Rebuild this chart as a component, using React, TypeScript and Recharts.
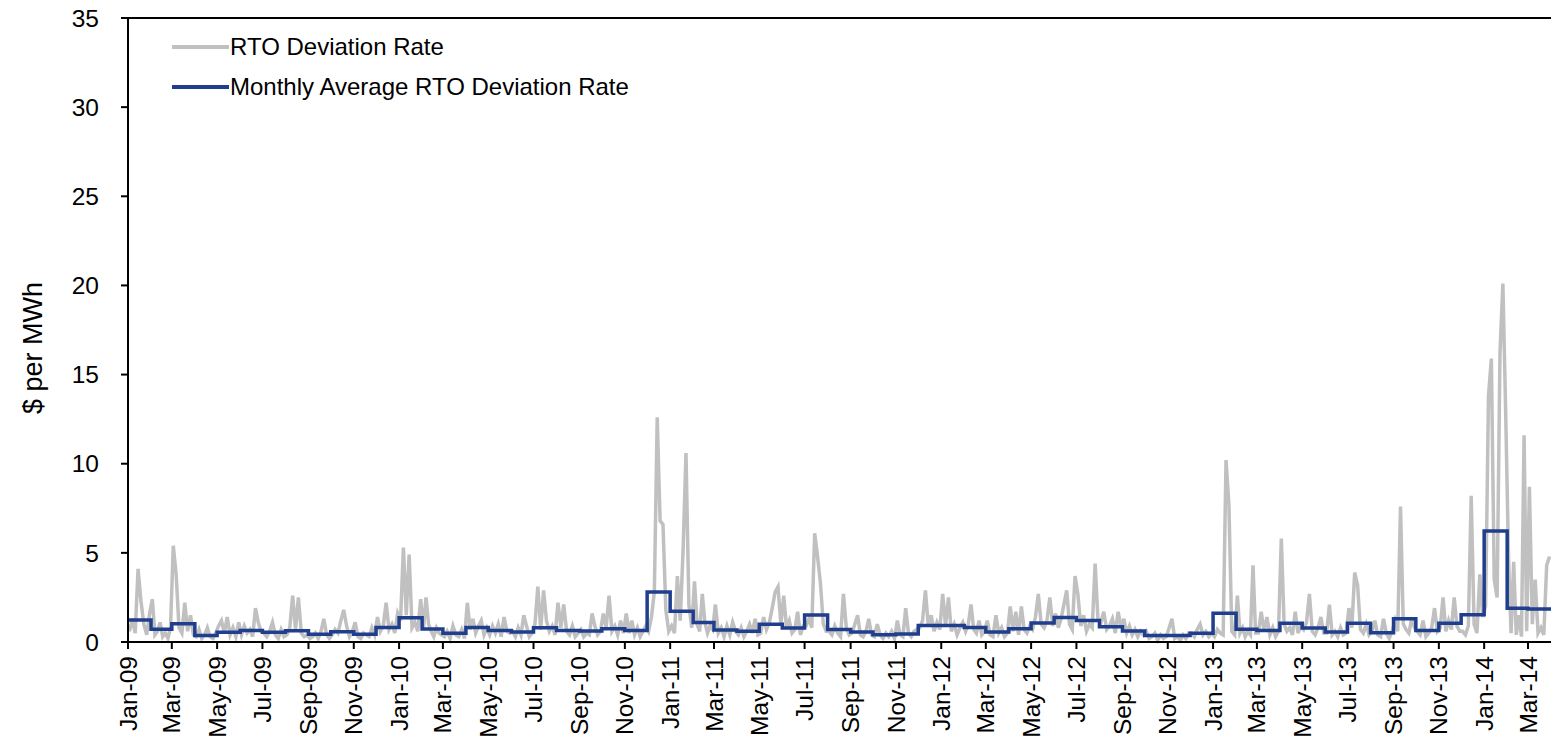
import { LineChart, Line, XAxis, YAxis, Legend, ReferenceLine } from "recharts";

// monthly averages, Jan-09 .. Mar-14
const monthlyAverage = [
  1.23, 0.71, 1.03, 0.37, 0.54, 0.64, 0.54, 0.63, 0.43, 0.58, 0.43, 0.82,
  1.36, 0.73, 0.49, 0.82, 0.65, 0.56, 0.8, 0.65, 0.62, 0.74, 0.64, 2.8,
  1.72, 1.1, 0.67, 0.6, 0.99, 0.79, 1.51, 0.7, 0.56, 0.41, 0.45, 0.93,
  0.92, 0.82, 0.56, 0.75, 1.07, 1.38, 1.21, 0.86, 0.62, 0.37, 0.37, 0.49,
  1.61, 0.71, 0.64, 1.05, 0.79, 0.56, 1.05, 0.52, 1.31, 0.64, 1.05, 1.53,
  6.23, 1.89, 1.85,
];

// rate readings, 8 per month
const rate2009 = [
  [0.6, 1.3, 0.5, 4.1, 2.3, 1.0, 0.4, 1.6],
  [2.4, 0.4, 0.6, 1.1, 0.3, 0.5, 0.2, 0.8],
  [5.4, 3.8, 0.8, 0.5, 2.2, 0.6, 1.5, 0.4],
  [0.3, 0.7, 0.2, 0.4, 0.8, 0.3, 0.2, 0.5],
  [0.9, 1.2, 0.5, 1.4, 0.4, 0.8, 0.3, 1.1],
  [0.4, 0.9, 0.5, 0.7, 0.3, 1.9, 1.1, 0.6],
  [0.5, 0.3, 0.6, 1.1, 0.4, 0.2, 0.7, 0.3],
  [0.4, 0.8, 2.6, 0.7, 2.5, 0.5, 0.3, 0.4],
  [0.2, 0.3, 0.5, 0.2, 0.6, 1.3, 0.4, 0.2],
  [0.4, 0.7, 0.5, 1.2, 1.8, 0.9, 0.3, 0.6],
  [1.1, 0.3, 0.2, 0.5, 0.4, 0.3, 0.8, 0.4],
  [1.4, 0.6, 0.9, 2.2, 0.7, 1.0, 0.5, 1.6],
];
const rate2010 = [
  [1.2, 5.3, 1.5, 4.9, 0.8, 1.1, 0.6, 2.4],
  [0.7, 2.5, 1.0, 0.6, 0.3, 0.8, 0.5, 0.4],
  [0.3, 0.6, 0.2, 0.9, 0.4, 0.3, 0.7, 0.2],
  [2.2, 0.7, 1.3, 0.5, 0.9, 1.2, 0.4, 0.8],
  [0.4, 0.9, 0.5, 1.0, 0.3, 1.4, 0.6, 0.5],
  [0.6, 0.3, 0.8, 0.4, 1.5, 0.9, 0.3, 0.5],
  [1.0, 3.1, 0.7, 2.9, 1.2, 0.6, 0.9, 0.4],
  [2.2, 0.8, 2.1, 0.6, 0.4, 0.9, 0.3, 0.5],
  [0.7, 0.3, 0.5, 0.4, 1.6, 0.9, 0.4, 0.6],
  [1.6, 0.8, 2.6, 0.6, 0.9, 0.4, 1.2, 0.5],
  [1.6, 0.5, 1.2, 0.4, 0.8, 0.3, 0.6, 0.9],
  [0.6, 1.4, 2.8, 12.6, 6.8, 6.6, 1.8, 0.6],
];
const rate2011 = [
  [0.9, 0.5, 3.7, 1.2, 5.2, 10.6, 2.1, 0.8],
  [3.4, 1.0, 0.6, 2.7, 1.1, 0.5, 0.9, 0.7],
  [2.1, 0.5, 0.8, 0.3, 0.9, 0.4, 1.1, 0.6],
  [0.4, 0.8, 0.3, 0.6, 1.0, 0.5, 1.3, 0.4],
  [0.5, 1.4, 0.7, 1.1, 1.9, 2.8, 3.1, 1.0],
  [2.6, 0.8, 1.2, 0.5, 0.7, 1.7, 0.4, 0.9],
  [0.9, 1.3, 0.8, 6.1, 4.8, 3.3, 1.0, 0.6],
  [0.6, 0.4, 0.9, 0.5, 0.3, 2.7, 0.8, 0.4],
  [0.5, 1.0, 1.5, 0.4, 0.3, 0.6, 1.3, 0.4],
  [0.3, 1.0, 0.4, 0.2, 0.5, 0.3, 0.6, 0.2],
  [1.2, 0.4, 0.3, 1.9, 0.5, 0.3, 0.6, 0.7],
  [0.8, 1.2, 2.9, 0.9, 1.5, 0.6, 1.1, 0.7],
];
const rate2012 = [
  [2.7, 0.9, 2.5, 0.6, 1.0, 0.4, 0.8, 1.1],
  [0.6, 1.0, 2.1, 0.7, 0.5, 1.2, 0.4, 0.6],
  [1.2, 0.4, 0.3, 1.5, 0.5, 0.8, 0.3, 0.5],
  [2.0, 0.6, 1.7, 0.4, 2.0, 0.7, 0.5, 0.9],
  [0.7, 1.4, 2.7, 1.0, 0.8, 1.2, 2.5, 0.9],
  [1.6, 0.8, 1.3, 2.1, 2.9, 1.0, 0.7, 3.7],
  [2.7, 0.9, 1.5, 0.6, 1.0, 0.8, 4.4, 1.2],
  [1.1, 1.7, 0.7, 0.9, 1.3, 0.5, 1.7, 0.8],
  [1.3, 0.5, 0.9, 0.4, 0.7, 0.3, 0.6, 0.4],
  [0.6, 0.2, 0.3, 0.5, 0.1, 0.4, 0.2, 0.3],
  [0.8, 1.3, 0.2, 0.3, 0.1, 0.4, 0.2, 0.5],
  [0.5, 0.3, 0.7, 1.0, 0.4, 0.6, 0.3, 0.5],
];
const rate2013 = [
  [0.3, 0.7, 0.5, 0.4, 10.2, 7.7, 0.6, 0.4],
  [2.6, 0.5, 0.8, 0.3, 0.6, 0.4, 4.3, 0.5],
  [0.5, 1.7, 0.6, 1.4, 0.4, 0.8, 0.3, 0.6],
  [5.8, 1.0, 0.6, 0.8, 0.4, 1.7, 0.5, 0.9],
  [0.7, 1.1, 2.7, 0.6, 0.4, 0.8, 1.4, 0.5],
  [0.5, 2.1, 0.4, 0.6, 0.3, 0.8, 0.4, 0.5],
  [1.9, 0.8, 3.9, 3.2, 0.7, 0.5, 1.0, 0.4],
  [0.6, 1.2, 0.4, 0.3, 1.3, 0.5, 0.2, 0.6],
  [1.2, 0.6, 7.6, 1.0, 0.7, 0.5, 1.3, 0.8],
  [0.6, 0.4, 1.2, 0.3, 0.5, 0.8, 1.9, 0.6],
  [0.8, 2.5, 0.6, 1.2, 0.7, 2.5, 0.9, 0.6],
  [0.6, 0.4, 0.9, 8.2, 1.0, 0.5, 3.8, 1.4],
];
const rate2014 = [
  [2.0, 13.8, 15.9, 3.5, 2.5, 16.2, 20.1, 12.7],
  [4.8, 0.5, 4.5, 0.4, 1.5, 0.3, 11.6, 0.6],
  [8.7, 1.0, 3.5, 0.5, 0.8, 0.4, 4.3, 4.8],
];

const tickLabels = [
  "Jan-09", "Mar-09", "May-09", "Jul-09", "Sep-09", "Nov-09",
  "Jan-10", "Mar-10", "May-10", "Jul-10", "Sep-10", "Nov-10",
  "Jan-11", "Mar-11", "May-11", "Jul-11", "Sep-11", "Nov-11",
  "Jan-12", "Mar-12", "May-12", "Jul-12", "Sep-12", "Nov-12",
  "Jan-13", "Mar-13", "May-13", "Jul-13", "Sep-13", "Nov-13",
  "Jan-14", "Mar-14",
];

const yTicks = [0, 5, 10, 15, 20, 25, 30, 35];

const FONT = '"Liberation Sans", Arial, sans-serif';
const GRAY = "#c0c0c0";
const BLUE = "#1f3e8e";

// day offset from Jan 1 2009 for month index m
const monthStart = (m: number) =>
  (Date.UTC(2009, m, 1) - Date.UTC(2009, 0, 1)) / 86400000;

const END_DAY = monthStart(monthlyAverage.length);

const dailyRows = [...rate2009, ...rate2010, ...rate2011, ...rate2012, ...rate2013, ...rate2014];
const rateData = dailyRows.flatMap((vals, m) => {
  const s = monthStart(m);
  const len = monthStart(m + 1) - s;
  return vals.map((v, i) => ({ day: s + ((i + 0.5) * len) / vals.length, rate: v }));
});

const avgData = [
  ...monthlyAverage.map((v, m) => ({ day: monthStart(m), avg: v })),
  { day: END_DAY, avg: monthlyAverage[monthlyAverage.length - 1] },
];

const xTicks = tickLabels.map((_, i) => monthStart(i * 2));
const labelOf = new Map(xTicks.map((t, i) => [t, tickLabels[i]]));

const XTick = ({ x, y, payload }: any) => (
  <text
    x={x}
    y={y}
    dx={-5}
    dy="0.35em"
    textAnchor="end"
    transform={`rotate(-90, ${x}, ${y})`}
    fontFamily={FONT}
    fontSize={24.5}
    fill="#000"
  >
    {labelOf.get(payload.value)}
  </text>
);

const LegendBox = () => (
  <div style={{ fontFamily: FONT, fontSize: 24, color: "#000", lineHeight: "40px" }}>
    {[
      { name: "RTO Deviation Rate", color: GRAY },
      { name: "Monthly Average RTO Deviation Rate", color: BLUE },
    ].map((it) => (
      <div key={it.name} style={{ display: "flex", alignItems: "center", height: 40, whiteSpace: "nowrap" }}>
        <svg width={57} height={8} style={{ marginRight: 1 }}>
          <line x1={0} y1={4} x2={57} y2={4} stroke={it.color} strokeWidth={4} />
        </svg>
        <span>{it.name}</span>
      </div>
    ))}
  </div>
);

export default function App() {
  return (
    <div style={{ position: "absolute", left: 0, top: 0, background: "#fff" }}>
      <LineChart
        width={1551}
        height={741}
        margin={{ top: 18, right: 0, bottom: 0, left: 0 }}
      >
        <XAxis
          type="number"
          dataKey="day"
          domain={[0, END_DAY]}
          ticks={xTicks}
          interval={0}
          height={99}
          tickSize={7}
          axisLine={{ stroke: "#000", strokeWidth: 2 }}
          tickLine={{ stroke: "#000", strokeWidth: 2 }}
          tick={<XTick />}
          allowDataOverflow
        />
        <YAxis
          type="number"
          domain={[0, 35]}
          ticks={yTicks}
          interval={0}
          width={128}
          tickSize={7}
          tickMargin={22}
          axisLine={{ stroke: "#000", strokeWidth: 2 }}
          tickLine={{ stroke: "#000", strokeWidth: 2 }}
          tick={{ fill: "#000", fontSize: 24.5, fontFamily: FONT }}
          label={{
            content: () => (
              <text
                x={42}
                y={348}
                transform="rotate(-90, 42, 348)"
                textAnchor="middle"
                fontFamily={FONT}
                fontSize={27}
                fill="#000"
              >
                $ per MWh
              </text>
            ),
          }}
        />
        <ReferenceLine y={35} stroke="#000" strokeWidth={2} />
        <Legend
          layout="vertical"
          verticalAlign="middle"
          align="center"
          wrapperStyle={{ left: 172, top: 27, width: 520, height: 80 }}
          content={() => <LegendBox />}
        />
        <Line
          data={rateData}
          dataKey="rate"
          type="linear"
          stroke={GRAY}
          strokeWidth={3.5}
          dot={false}
          isAnimationActive={false}
        />
        <Line
          data={avgData}
          dataKey="avg"
          type="stepAfter"
          stroke={BLUE}
          strokeWidth={3.5}
          dot={false}
          isAnimationActive={false}
        />
      </LineChart>
    </div>
  );
}
